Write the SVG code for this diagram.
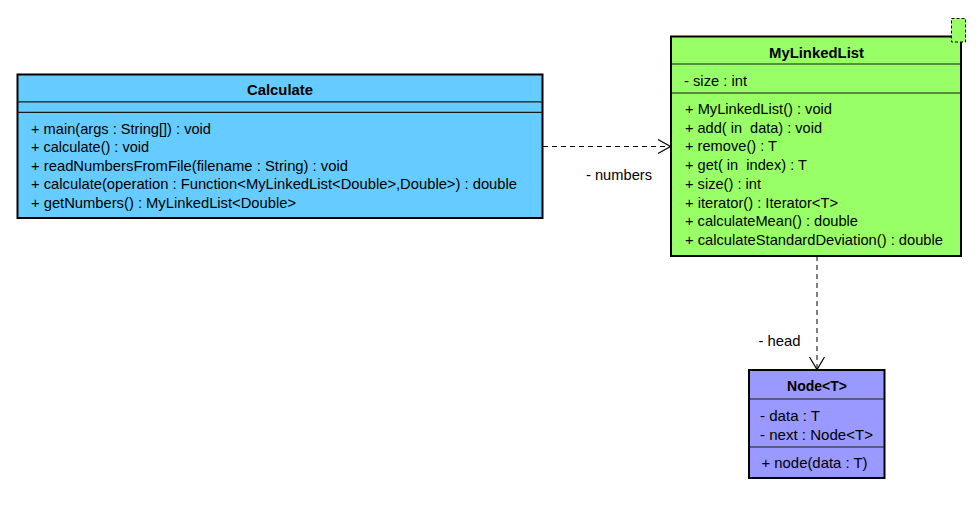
<svg xmlns="http://www.w3.org/2000/svg" width="977" height="513" viewBox="0 0 977 513">
<defs>
<style>
.box{stroke:#000;stroke-width:2}
.div{stroke:#1a1a1a;stroke-width:1.2;fill:none}
.t{font-family:"Liberation Sans",Arial,sans-serif;font-size:14.5px;fill:#000}
.b{font-family:"Liberation Sans",Arial,sans-serif;font-size:14.5px;font-weight:bold;fill:#000;text-anchor:middle}
.dep{stroke:#000;stroke-width:1;fill:none;stroke-dasharray:5,4}
.head{stroke:#000;stroke-width:1.2;fill:none}
</style>
</defs>
<rect width="977" height="513" fill="#fff"/>
<g id="connectors">
  <g id="calc-to-list">
    <line class="dep" x1="543" y1="146.5" x2="670" y2="146.5"/>
    <polyline class="head" points="658,139.5 670.5,146.5 658,153.5"/>
    <text class="t" x="586" y="179.5" textLength="66" lengthAdjust="spacingAndGlyphs">- numbers</text>
  </g>
  <g id="list-to-node">
    <line class="dep" x1="817" y1="256" x2="817" y2="369"/>
    <polyline class="head" points="809.5,357 817,369.5 824.5,357"/>
    <text class="t" x="758.5" y="346" textLength="42" lengthAdjust="spacingAndGlyphs">- head</text>
  </g>
</g>
<g id="Calculate">
  <rect class="box" x="17.5" y="74.5" width="525" height="143.5" fill="#66CCFF"/>
  <line class="div" x1="17.5" y1="101.8" x2="542.5" y2="101.8"/>
  <line class="div" x1="17.5" y1="112.3" x2="542.5" y2="112.3"/>
  <text class="b" x="280" y="95" textLength="66" lengthAdjust="spacingAndGlyphs">Calculate</text>
  <text class="t" x="31" y="133.5" textLength="180" lengthAdjust="spacingAndGlyphs">+ main(args : String[]) : void</text>
  <text class="t" x="31" y="152" textLength="118" lengthAdjust="spacingAndGlyphs">+ calculate() : void</text>
  <text class="t" x="31" y="170.5" textLength="317" lengthAdjust="spacingAndGlyphs">+ readNumbersFromFile(filename : String) : void</text>
  <text class="t" x="31" y="189" textLength="486" lengthAdjust="spacingAndGlyphs">+ calculate(operation : Function&lt;MyLinkedList&lt;Double&gt;,Double&gt;) : double</text>
  <text class="t" x="31" y="207.5" textLength="265" lengthAdjust="spacingAndGlyphs">+ getNumbers() : MyLinkedList&lt;Double&gt;</text>
</g>
<g id="MyLinkedList">
  <rect class="box" x="671" y="36.5" width="290" height="219.5" fill="#99FF66"/>
  <line class="div" x1="671" y1="64" x2="961" y2="64"/>
  <line class="div" x1="671" y1="93" x2="961" y2="93"/>
  <text class="b" x="816.5" y="57.5" textLength="95" lengthAdjust="spacingAndGlyphs">MyLinkedList</text>
  <text class="t" x="684" y="86" textLength="63" lengthAdjust="spacingAndGlyphs">- size : int</text>
  <text class="t" x="685" y="114" textLength="147" lengthAdjust="spacingAndGlyphs">+ MyLinkedList() : void</text>
  <text class="t" x="685" y="132.7" textLength="137" lengthAdjust="spacingAndGlyphs" xml:space="preserve">+ add( in  data) : void</text>
  <text class="t" x="685" y="151.4" textLength="92" lengthAdjust="spacingAndGlyphs">+ remove() : T</text>
  <text class="t" x="685" y="170.1" textLength="122" lengthAdjust="spacingAndGlyphs" xml:space="preserve">+ get( in  index) : T</text>
  <text class="t" x="685" y="188.8" textLength="76" lengthAdjust="spacingAndGlyphs">+ size() : int</text>
  <text class="t" x="685" y="207.5" textLength="153" lengthAdjust="spacingAndGlyphs">+ iterator() : Iterator&lt;T&gt;</text>
  <text class="t" x="685" y="226.2" textLength="173" lengthAdjust="spacingAndGlyphs">+ calculateMean() : double</text>
  <text class="t" x="685" y="244.9" textLength="258" lengthAdjust="spacingAndGlyphs">+ calculateStandardDeviation() : double</text>
  <rect x="951.5" y="18.5" width="14" height="23.5" fill="#99FF66" stroke="#000" stroke-width="1" stroke-dasharray="3,2"/>
</g>
<g id="Node">
  <rect class="box" x="749" y="370" width="135.5" height="108" fill="#9999FF"/>
  <line class="div" x1="749" y1="399" x2="884.5" y2="399"/>
  <line class="div" x1="749" y1="447" x2="884.5" y2="447"/>
  <text class="b" x="817" y="391" textLength="60" lengthAdjust="spacingAndGlyphs">Node&lt;T&gt;</text>
  <text class="t" x="760" y="421" textLength="60" lengthAdjust="spacingAndGlyphs">- data : T</text>
  <text class="t" x="760" y="439.5" textLength="113" lengthAdjust="spacingAndGlyphs">- next : Node&lt;T&gt;</text>
  <text class="t" x="761.5" y="468" textLength="106" lengthAdjust="spacingAndGlyphs">+ node(data : T)</text>
</g>
</svg>
